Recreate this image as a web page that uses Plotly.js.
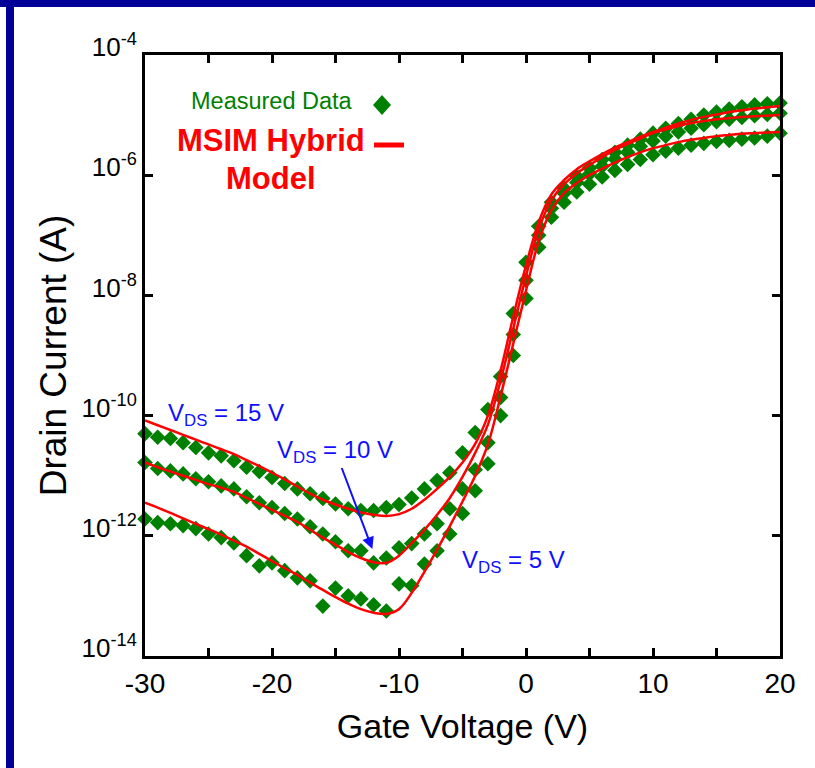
<!DOCTYPE html>
<html><head><meta charset="utf-8">
<script src="https://cdn.plot.ly/plotly-3.0.1.min.js"></script>
<style>html,body{margin:0;padding:0;background:#fff;}#chart{width:815px;height:768px;}</style>
</head><body><div id="chart"></div>
<script>
// Gate voltage (V)
const gateVoltage = [-30,-29,-28,-27,-26,-25,-24,-23,-22,-21,-20,-19,-18,-17,-16,-15,-14,-13,-12,-11,-10,-9,-8,-7,-6,-5,-4,-3,-2,-1,0,1,2,3,4,5,6,7,8,9,10,11,12,13,14,15,16,17,18,19,20];
// Measured drain current, log10(A)
const measuredVds15 = [-10.30,-10.36,-10.38,-10.45,-10.53,-10.62,-10.67,-10.75,-10.86,-10.93,-11.03,-11.13,-11.22,-11.30,-11.38,-11.47,-11.55,-11.58,-11.58,-11.53,-11.48,-11.37,-11.22,-11.08,-10.95,-10.62,-10.28,-9.90,-9.35,-8.30,-7.45,-6.85,-6.45,-6.22,-6.02,-5.88,-5.74,-5.62,-5.50,-5.40,-5.30,-5.22,-5.14,-5.07,-5.00,-4.95,-4.90,-4.86,-4.83,-4.81,-4.80];
const measuredVds10 = [-10.78,-10.88,-10.92,-10.97,-11.05,-11.10,-11.17,-11.22,-11.35,-11.45,-11.53,-11.63,-11.72,-11.85,-11.97,-12.10,-12.25,-12.25,-12.45,-12.37,-12.20,-12.13,-11.97,-11.80,-11.55,-11.22,-10.90,-10.45,-9.70,-8.65,-7.75,-7.00,-6.55,-6.30,-6.12,-5.98,-5.85,-5.73,-5.62,-5.52,-5.43,-5.35,-5.28,-5.22,-5.16,-5.11,-5.07,-5.04,-5.01,-4.99,-4.97];
const measuredVds5 = [-11.72,-11.78,-11.80,-11.83,-11.88,-11.97,-12.03,-12.12,-12.33,-12.50,-12.45,-12.58,-12.70,-12.75,-13.17,-12.87,-13.00,-13.05,-13.15,-13.25,-12.80,-12.83,-12.47,-12.25,-11.97,-11.63,-11.25,-10.80,-10.00,-9.00,-8.05,-7.20,-6.70,-6.45,-6.28,-6.15,-6.03,-5.92,-5.82,-5.74,-5.66,-5.60,-5.55,-5.50,-5.47,-5.44,-5.42,-5.40,-5.38,-5.35,-5.30];
// MSIM hybrid model, log10(A)
const modelVds15 = [-10.08,-10.16,-10.24,-10.32,-10.40,-10.48,-10.56,-10.64,-10.74,-10.84,-10.95,-11.06,-11.18,-11.30,-11.40,-11.48,-11.55,-11.61,-11.65,-11.67,-11.64,-11.55,-11.40,-11.22,-11.02,-10.78,-10.47,-10.00,-9.25,-8.35,-7.50,-6.78,-6.32,-6.08,-5.90,-5.77,-5.65,-5.54,-5.45,-5.36,-5.28,-5.21,-5.14,-5.08,-5.03,-4.99,-4.95,-4.92,-4.89,-4.87,-4.85];
const modelVds10 = [-10.78,-10.86,-10.93,-11.00,-11.07,-11.14,-11.20,-11.27,-11.37,-11.47,-11.57,-11.67,-11.77,-11.90,-12.03,-12.15,-12.27,-12.37,-12.44,-12.45,-12.33,-12.12,-11.90,-11.65,-11.37,-11.02,-10.62,-10.15,-9.42,-8.55,-7.68,-6.90,-6.42,-6.15,-5.97,-5.83,-5.70,-5.58,-5.48,-5.39,-5.30,-5.24,-5.18,-5.13,-5.10,-5.07,-5.05,-5.03,-5.02,-5.01,-5.00];
const modelVds5 = [-11.45,-11.53,-11.62,-11.71,-11.80,-11.89,-11.98,-12.08,-12.18,-12.30,-12.42,-12.54,-12.65,-12.78,-12.90,-13.02,-13.13,-13.22,-13.28,-13.30,-13.22,-12.95,-12.60,-12.23,-11.84,-11.43,-11.00,-10.48,-9.68,-8.80,-7.92,-7.10,-6.58,-6.30,-6.13,-6.00,-5.89,-5.79,-5.70,-5.62,-5.55,-5.50,-5.45,-5.41,-5.38,-5.35,-5.33,-5.31,-5.30,-5.29,-5.28];
// Axis ticks
const xTickVals = [-30,-25,-20,-15,-10,-5,0,5,10,15,20];
const xTickText = ['-30','','-20','','-10','','0','','10','','20'];
const yTickExp = [-14,-12,-10,-8,-6,-4];

const toAmp = a => a.map(v => Math.pow(10, v));
const FONT = '"Liberation Sans", Arial, sans-serif';
const GREEN = '#008000', RED = '#ff0000', BLUE = '#1010ff';

// pixel -> paper helpers (plot area 145..780 x 55..656)
const L = 145, R = 780, T = 55, B = 656;
const px = x => (x - L) / (R - L);
const py = y => (B - y) / (B - T);

const traces = [];
[measuredVds15, measuredVds10, measuredVds5].forEach(s => traces.push({
  x: gateVoltage, y: toAmp(s), type: 'scatter', mode: 'markers', cliponaxis: false,
  marker: {symbol: 'diamond', size: 12, color: GREEN}, showlegend: false, hoverinfo: 'skip'
}));
[modelVds15, modelVds10, modelVds5].forEach(s => traces.push({
  x: gateVoltage, y: toAmp(s), type: 'scatter', mode: 'lines',
  line: {color: RED, width: 2.5, shape: 'spline', smoothing: 1}, showlegend: false, hoverinfo: 'skip'
}));

const ann = (x, y, text, size, color) => ({xref: 'paper', yref: 'paper', x: px(x), y: py(y), xanchor: 'center', yanchor: 'middle',
  text: text, showarrow: false, font: {size: size, family: FONT, color: color}});

const layout = {
  width: 815, height: 768,
  margin: {l: L, r: 815 - R, t: T, b: 768 - B},
  paper_bgcolor: '#fff', plot_bgcolor: '#fff',
  showlegend: false,
  font: {family: FONT, color: '#000'},
  xaxis: {
    range: [-30, 20], tickvals: xTickVals, ticktext: xTickText,
    ticks: 'inside', ticklen: 8, tickwidth: 3, tickcolor: '#000',
    showline: true, linewidth: 3, linecolor: '#000', mirror: 'ticks',
    showgrid: false, zeroline: false,
    tickfont: {size: 28, family: FONT, color: '#000'},
    title: {text: 'Gate Voltage (V)', font: {size: 34, family: FONT, color: '#000'}, standoff: 17}
  },
  yaxis: {
    type: 'log', range: [-14, -4],
    tickvals: yTickExp.map(e => Math.pow(10, e)),
    ticktext: yTickExp.map(e => '10<sup>' + e + '</sup>'),
    ticks: 'inside', ticklen: 8, tickwidth: 3, tickcolor: '#000',
    showline: true, linewidth: 3, linecolor: '#000', mirror: 'ticks',
    showgrid: false, zeroline: false, ticklabelshift: -8,
    tickfont: {size: 26, family: FONT, color: '#000'},
    title: {text: 'Drain Current (A)', font: {size: 37, family: FONT, color: '#000'}, standoff: 4}
  },
  shapes: [
    {type: 'rect', xref: 'paper', yref: 'paper', x0: px(0), x1: px(815), y0: py(0), y1: py(7), fillcolor: '#000099', line: {width: 0}, layer: 'above'},
    {type: 'rect', xref: 'paper', yref: 'paper', x0: px(6), x1: px(14), y0: py(0), y1: py(768), fillcolor: '#000099', line: {width: 0}, layer: 'above'},
    {type: 'path', xref: 'paper', yref: 'paper', xsizemode: 'pixel', ysizemode: 'pixel', xanchor: px(382), yanchor: py(105),
     path: 'M -9 0 L 0 10 L 9 0 L 0 -10 Z', fillcolor: GREEN, line: {width: 0}},
    {type: 'line', xref: 'paper', yref: 'paper', x0: px(374), x1: px(404), y0: py(145), y1: py(145), line: {color: RED, width: 5}}
  ],
  annotations: [
    ann(272, 101, 'Measured Data', 23.5, GREEN),
    ann(271, 140, '<b>MSIM Hybrid</b>', 31, RED),
    ann(271, 178, '<b>Model</b>', 31, RED),
    ann(226, 414, 'V<sub>DS</sub> = 15 V', 24, BLUE),
    ann(513, 561, 'V<sub>DS</sub> = 5 V', 24, BLUE),
    {xref: 'x', yref: 'y', x: -12.1, y: -12.22, ax: -37, ay: -98, text: 'V<sub>DS</sub> = 10 V', showarrow: true,
     arrowhead: 2, arrowsize: 1.2, arrowwidth: 2, arrowcolor: BLUE,
     font: {size: 24, family: FONT, color: BLUE}}
  ]
};

Plotly.newPlot('chart', traces, layout, {displayModeBar: false, staticPlot: true});
</script>
</body></html>
